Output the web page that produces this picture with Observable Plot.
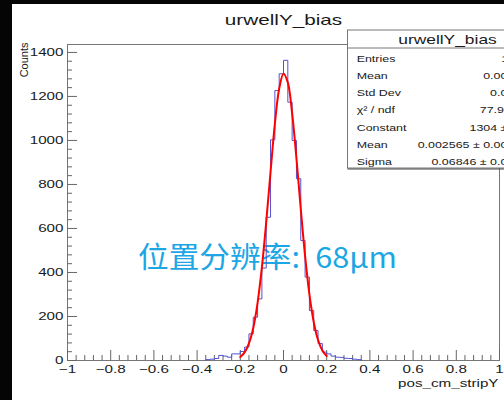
<!DOCTYPE html>
<html><head><meta charset="utf-8">
<script src="https://cdn.jsdelivr.net/npm/d3@7"></script>
<script src="https://cdn.jsdelivr.net/npm/@observablehq/plot@0.6"></script>
<style>
html,body{margin:0;padding:0;background:#fff;overflow:hidden;}
#wrap{position:relative;width:504px;height:400px;overflow:hidden;}
#bandL{position:absolute;left:0;top:0;width:12px;height:400px;background:#050505;}
#bandT{position:absolute;left:0;top:0;width:504px;height:4px;background:#050505;}
</style></head><body>
<div id="wrap"><div id="chart"></div><div id="bandT"></div><div id="bandL"></div></div>
<script>
const title = "urwellY_bias";
const xLabel = "pos_cm_stripY";
const yLabel = "Counts";
const annotation = "位置分辨率:\u200268μm";

const binWidth = 0.02;
const binStarts = [-0.36,-0.34,-0.32,-0.30,-0.28,-0.26,-0.24,-0.22,-0.20,-0.18,-0.16,-0.14,-0.12,-0.10,-0.08,-0.06,-0.04,-0.02,
                   0.00,0.02,0.04,0.06,0.08,0.10,0.12,0.14,0.16,0.18,0.20,0.22,0.24,0.26,0.28,0.30,0.32,0.34];
const counts = [4,6,9,23,20,15,30,30,41,61,121,197,280,420,651,1003,1227,1303,
                1364,1174,1000,826,545,379,227,136,77,38,30,20,15,14,10,9,6,4];

const fitX = [-0.20,-0.18,-0.16,-0.14,-0.12,-0.10,-0.08,-0.06,-0.04,-0.02,0,0.02,0.04,0.06,0.08,0.10,0.12,0.14,0.16,0.18,0.20];
const fitY = [16,37,78,148,262,424,629,857,1075,1235,1303,1263,1123,918,688,474,300,174,93,45,20];

const xTicks = [-1,-0.8,-0.6,-0.4,-0.2,0,0.2,0.4,0.6,0.8,1];
const xMinorTicks = [-0.96,-0.92,-0.88,-0.84,-0.76,-0.72,-0.68,-0.64,-0.56,-0.52,-0.48,-0.44,-0.36,-0.32,-0.28,-0.24,
                     -0.16,-0.12,-0.08,-0.04,0.04,0.08,0.12,0.16,0.24,0.28,0.32,0.36,0.44,0.48,0.52,0.56,0.64,0.68,0.72,0.76,0.84,0.88,0.92,0.96];
const yTicks = [0,200,400,600,800,1000,1200,1400];
const yMinorTicks = [40,80,120,160,240,280,320,360,440,480,520,560,640,680,720,760,840,880,920,960,
                     1040,1080,1120,1160,1240,1280,1320,1360];

const statNames = ["Entries","Mean","Std Dev","χ² / ndf","Constant","Mean","Sigma"];
const statValues = ["11542","0.002271","0.07203","77.93 / 43","1304 ± 15.8","0.002565 ± 0.000680","0.06846 ± 0.00054"];

const STRETCH = 1.38;
const FONT = "'Liberation Sans', Arial, Helvetica, sans-serif";
const fmt = d3.format("");

const histPts = [{x: binStarts[0], y: 0}]
  .concat(binStarts.map((x, i) => ({x, y: counts[i]})))
  .concat([{x: binStarts[binStarts.length-1] + binWidth, y: counts[counts.length-1]},
           {x: binStarts[binStarts.length-1] + binWidth, y: 0}]);
const fitPts = fitX.map((x, i) => ({x, y: fitY[i]}));

const plot = Plot.plot({
  width: 504, height: 400,
  marginLeft: 67, marginRight: 5, marginTop: 44, marginBottom: 40,
  style: {fontFamily: FONT, fontSize: "11px", color: "#1a1a1a", background: "white"},
  x: {domain: [-1, 1]},
  y: {domain: [0, 1436]},
  marks: [
    Plot.text([annotation], {frameAnchor: "middle", dx: -16, dy: 56, fontSize: 29,
      fontFamily: "'Noto Sans CJK SC', sans-serif", fill: "#1ca6e4"}),
    Plot.frame({stroke: "#777"}),
    Plot.axisX({ticks: xTicks, tickSize: -10, fill: "none", stroke: "#666", label: null}),
    Plot.axisX({ticks: xMinorTicks, tickSize: -5, fill: "none", stroke: "#666", label: null}),
    Plot.axisX({ticks: xTicks, tickSize: 0, tickPadding: 5, tickFormat: fmt, fill: "#1a1a1a", label: null}),
    Plot.axisY({ticks: yTicks, tickSize: -10, fill: "none", stroke: "#666", label: null}),
    Plot.axisY({ticks: yMinorTicks, tickSize: -5, fill: "none", stroke: "#666", label: null}),
    Plot.axisY({ticks: yTicks, tickSize: 0, tickPadding: 4, tickFormat: fmt, fill: "#1a1a1a", label: null}),
    Plot.line(histPts, {x: "x", y: "y", curve: "step-after", stroke: "#5252d4", strokeWidth: 1}),
    Plot.line(fitPts, {x: "x", y: "y", curve: "catmull-rom", stroke: "#ff0000", strokeWidth: 2}),
    Plot.text([title], {frameAnchor: "top", lineAnchor: "bottom", dy: -20, fontSize: 15, fill: "#1a1a1a"}),
    Plot.text([xLabel], {frameAnchor: "bottom-right", textAnchor: "end", lineAnchor: "bottom", dx: -1, dy: 26, fontSize: 11, fill: "#1a1a1a"}),
    Plot.text([yLabel], {frameAnchor: "top-left", rotate: -90, textAnchor: "end", lineAnchor: "bottom", dx: -40, dy: -2, fontSize: 11, fill: "#1a1a1a"})
  ]
});
document.getElementById("chart").append(plot);

// statistics box (ROOT stats pave), clipped on the right like the reference
const box = {x: 347.5, y: 30, w: 200, h: 138, head: 18};
const sg = d3.select(plot).append("g").attr("font-family", FONT).attr("fill", "#1a1a1a");
sg.append("rect").attr("x", box.x).attr("y", box.y).attr("width", box.w).attr("height", box.h)
  .attr("fill", "white").attr("stroke", "#777").attr("stroke-width", 1);
sg.append("line").attr("x1", box.x).attr("x2", box.x + box.w).attr("y1", box.y + box.h + 1).attr("y2", box.y + box.h + 1)
  .attr("stroke", "#444").attr("stroke-width", 1);
sg.append("line").attr("x1", box.x).attr("x2", box.x + box.w).attr("y1", box.y + box.head).attr("y2", box.y + box.head)
  .attr("stroke", "#777");
sg.append("text").attr("x", box.x + box.w / 2).attr("y", box.y + 13.5).attr("text-anchor", "middle")
  .attr("font-size", 12.6).text(title);
statNames.forEach((n, i) => {
  const yy = 61.5 + 17.3 * i;
  sg.append("text").attr("x", 356.7).attr("y", yy).attr("font-size", 9).attr("text-anchor", "start").text(n);
  sg.append("text").attr("x", 535).attr("y", yy).attr("font-size", 9).attr("text-anchor", "end").text(statValues[i]);
});

// ROOT canvas glyphs are horizontally stretched in the reference screenshot
d3.select(plot).selectAll("text").each(function() {
  const t = this.textContent;
  if (t === yLabel || !t) return;
  const len = this.getComputedTextLength();
  const target = t === annotation ? 259 : len * STRETCH;
  this.setAttribute("textLength", target.toFixed(2));
  this.setAttribute("lengthAdjust", "spacingAndGlyphs");
});
</script>
</body></html>
